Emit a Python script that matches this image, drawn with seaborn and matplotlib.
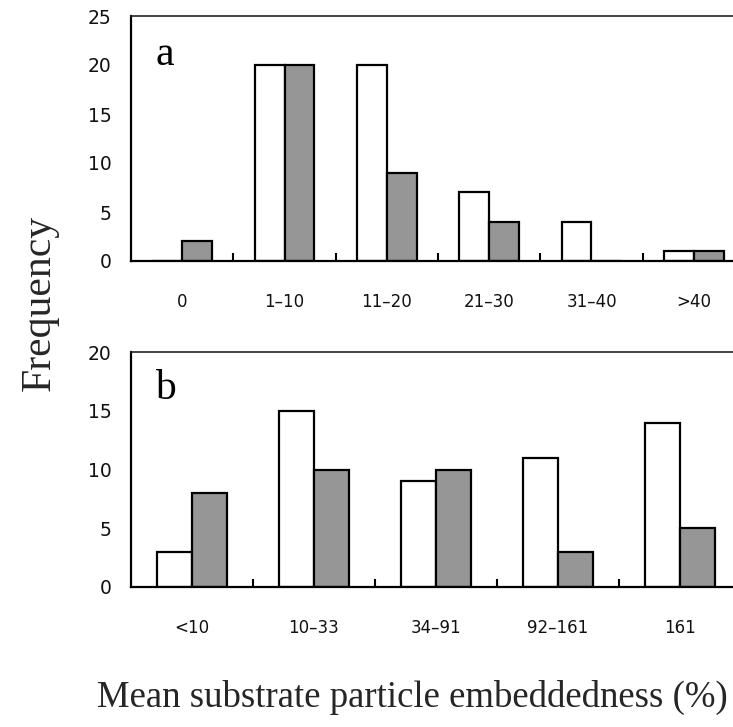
import matplotlib
matplotlib.use("Agg")
import matplotlib.pyplot as plt
import seaborn as sns
import pandas as pd

cats_a = ["0", "1–10", "11–20", "21–30", "31–40", ">40"]
white_a = [0, 20, 20, 7, 4, 1]
gray_a = [2, 20, 9, 4, 0, 1]

cats_b = ["<10", "10–33", "34–91", "92–161", "161"]
white_b = [3, 15, 9, 11, 14]
gray_b = [8, 10, 10, 3, 5]

series = ["white", "gray"]

sns.set_theme(style="white")
plt.rcParams['font.family'] = ['DejaVu Sans']

def make_df(cats, w, g):
    rows = []
    for c, v in zip(cats, w):
        rows.append({"cat": c, "val": v, "series": series[0]})
    for c, v in zip(cats, g):
        rows.append({"cat": c, "val": v, "series": series[1]})
    return pd.DataFrame(rows)

fig = plt.figure(figsize=(7.33, 7.27), dpi=100)
ax_a = fig.add_axes([131/733, 466/727, 614/733, 245/727])
ax_b = fig.add_axes([131/733, 140/727, 610/733, 235/727])

def draw(ax, cats, w, g, ymax, ystep, letter):
    df = make_df(cats, w, g)
    sns.barplot(data=df, x="cat", y="val", hue="series", order=cats,
                hue_order=series, palette=["white", "#969696"],
                edgecolor="black", linewidth=1.6, width=0.58,
                legend=False, ax=ax, saturation=1)
    n = len(cats)
    ax.set_xlim(-0.5, n - 0.5)
    ax.set_ylim(0, ymax)
    ax.set_yticks(range(0, ymax + 1, ystep))
    ax.set_xticks(range(n))
    ax.set_xticklabels(cats)
    ax.set_xticks([i + 0.5 for i in range(n - 1)], minor=True)
    ax.tick_params(axis="x", which="major", length=0, pad=23, labelsize=12)
    ax.tick_params(axis="x", which="minor", direction="in", length=6,
                   width=1.5, color="black", bottom=True)
    ax.tick_params(axis="y", length=0, pad=14, labelsize=13.5)
    ax.set_xlabel("")
    ax.set_ylabel("")
    for s in ["left", "bottom"]:
        ax.spines[s].set_linewidth(1.6)
        ax.spines[s].set_color("black")
    ax.spines["top"].set_linewidth(1.2)
    ax.spines["top"].set_color("#222222")
    ax.spines["right"].set_linewidth(1.2)
    ax.spines["right"].set_color("#222222")
    for lab in ax.get_xticklabels() + ax.get_yticklabels():
        lab.set_color("#111111")
    ax.text(0.04, 0.80, letter, transform=ax.transAxes, fontsize=30,
            family="Liberation Serif", color="black")

draw(ax_a, cats_a, white_a, gray_a, 25, 5, "a")
draw(ax_b, cats_b, white_b, gray_b, 20, 5, "b")

fig.text(40/733, 1 - 303/727, "Frequency", rotation=90, fontsize=30,
         family="Liberation Serif", ha="center", va="center")
fig.text(97/733, 1 - 697/727, "Mean substrate particle embeddedness (%)",
         fontsize=26.5, family="Liberation Serif", ha="left", va="center")

fig.savefig("out.png", dpi=100)
